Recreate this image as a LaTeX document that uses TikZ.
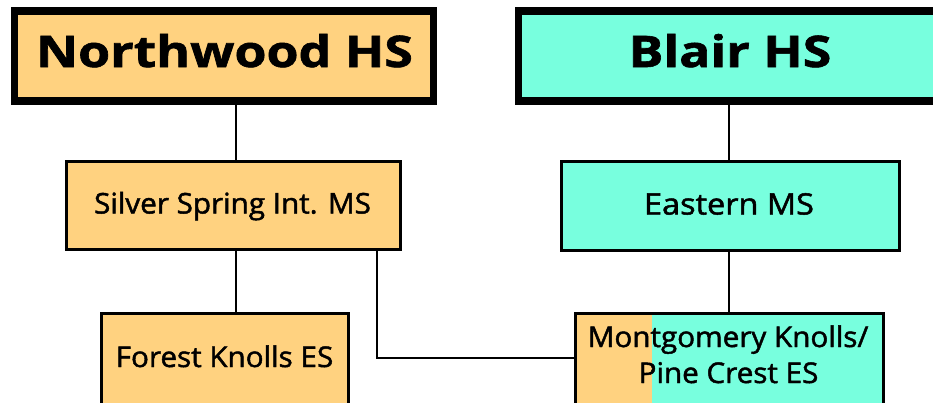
\documentclass[tikz,border=0pt]{standalone}
\usepackage{fontspec}
\setmainfont{Open Sans}
\newfontfamily\hsfont[BoldFeatures={FakeBold=1.3}]{Open Sans}
\newfontfamily\msfont[FakeBold=1.6]{Open Sans}
\definecolor{nworange}{RGB}{255,210,128}
\definecolor{blaircyan}{RGB}{120,255,222}
\tikzset{
  hsbox/.style={draw=black, line width=7.5pt, inner sep=0pt, outer sep=0pt},
  msbox/.style={draw=black, line width=3pt, inner sep=0pt, outer sep=0pt},
  hstext/.style={anchor=base, inner sep=0pt, font=\hsfont\bfseries\fontsize{43.5}{50}\selectfont},
  mstext/.style={anchor=base, inner sep=0pt, font=\msfont\fontsize{28.5}{34}\selectfont},
  link/.style={draw=black, line width=2pt},
}
\begin{document}
\begin{tikzpicture}[x=1pt,y=-1pt]
\useasboundingbox (0,0) rectangle (933,402);
% high schools
\node[hsbox, fill=nworange, minimum width=419pt, minimum height=90pt] (nw) at (224,56) {};
\node[hsbox, fill=blaircyan, minimum width=423pt, minimum height=90pt] (blair) at (730,56) {};
% middle schools
\node[msbox, fill=nworange, minimum width=334pt, minimum height=88.3pt] (ss) at (233,205.8) {};
\node[msbox, fill=blaircyan, minimum width=337.6pt, minimum height=89.3pt] (em) at (730.5,206.3) {};
% elementary schools
\node[msbox, fill=nworange, minimum width=246.6pt, minimum height=95pt] (fk) at (225,360.8) {};
\node[msbox, fill=blaircyan, minimum width=308.3pt, minimum height=95pt,
  path picture={\fill[nworange] (path picture bounding box.north west) rectangle ([xshift=77pt]path picture bounding box.south west);}] (mk) at (729.2,360.8) {};
\node[msbox, minimum width=308.3pt, minimum height=95pt] (mkframe) at (mk.center) {};
% texts
\node[hstext] (nwt) at (224.5,67) {\scalebox{1.19}[1]{Northwood HS}};
\node[hstext] (blairt) at (730,67) {\scalebox{1.19}[1]{Blair HS}};
\node[mstext] (sst) at (232.5,213.5) {\scalebox{1.04}[1]{Silver Spring Int. MS}};
\node[mstext, font=\msfont\fontsize{29.5}{34}\selectfont] (emt) at (729,214.5) {\scalebox{1.1}[1]{Eastern MS}};
\node[mstext] (fkt) at (224.5,367) {\scalebox{1.04}[1]{Forest Knolls ES}};
\node[mstext] (mkt1) at (728,347) {\scalebox{1.04}[1]{Montgomery Knolls/}};
\node[mstext] (mkt2) at (728.5,383) {\scalebox{1.04}[1]{Pine Crest ES}};
% connectors
\coordinate (c1) at (236,0);
\coordinate (c2) at (376.7,0);
\coordinate (c3) at (729,0);
\draw[link] (nw.south -| c1) -- (ss.north -| c1);
\draw[link] (ss.south -| c1) -- (fk.north -| c1);
\draw[link] (blair.south -| c3) -- (em.north -| c3);
\draw[link] (em.south -| c3) -- (mk.north -| c3);
\coordinate (bend) at (376.7,357.7);
\draw[link] (ss.south -| c2) -- (bend) -- (mk.west |- bend);
\end{tikzpicture}
\end{document}
